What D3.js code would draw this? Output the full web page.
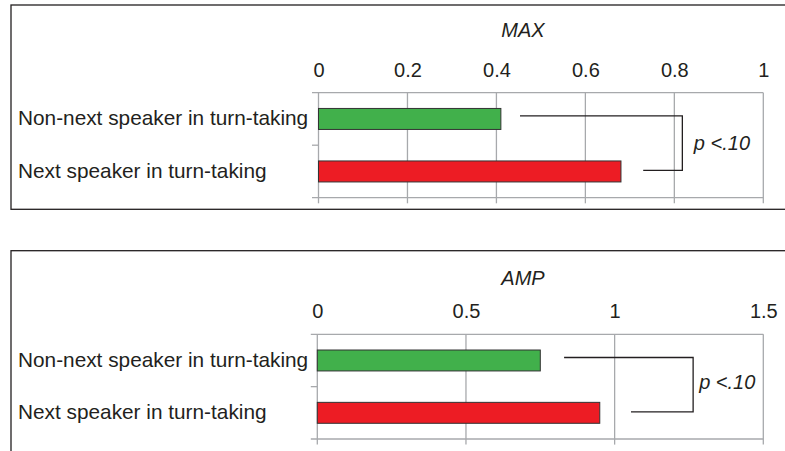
<!DOCTYPE html>
<html>
<head>
<meta charset="utf-8">
<script src="https://cdn.jsdelivr.net/npm/d3@7"></script>
<style>
  html, body { margin: 0; padding: 0; background: #fff; }
  svg { display: block; }
  text { font-family: "Liberation Sans", Arial, Helvetica, sans-serif; fill: #231f20; }
</style>
</head>
<body>
<svg id="chart" width="785" height="451"></svg>
<script>
// ---- data ----
const categories = ["Non-next speaker in turn-taking", "Next speaker in turn-taking"];
const maxValues = [0.41, 0.68];
const ampValues = [0.75, 0.95];
const maxTicks = [0, 0.2, 0.4, 0.6, 0.8, 1];
const maxTickLabels = ["0", "0.2", "0.4", "0.6", "0.8", "1"];
const ampTicks = [0, 0.5, 1, 1.5];
const ampTickLabels = ["0", "0.5", "1", "1.5"];
const panelTitles = ["MAX", "AMP"];
const sigLabel = "p <.10";
// bracket: start values of the two arms, value where the vertical bar sits
const maxBracket = [0.453, 0.730, 0.818];
const ampBracket = [0.83, 1.055, 1.264];
const barColors = ["#41b04b", "#ed1c24"];

// ---- layout ----
const panels = [
  { title: panelTitles[0], values: maxValues, ticks: maxTicks, labels: maxTickLabels, bracket: maxBracket,
    domain: [0, 1], x0: 318.5, x1: 763.3, yTop: 92.7, yBot: 197.7, titleY: 37.3, titleX: 523,
    tickY: 77.3, frameTop: 5, frameBot: 209.3, sigDx: 11.5, sigY: 149.5 },
  { title: panelTitles[1], values: ampValues, ticks: ampTicks, labels: ampTickLabels, bracket: ampBracket,
    domain: [0, 1.5], x0: 317.3, x1: 763.3, yTop: 334.3, yBot: 439, titleY: 285, titleX: 523,
    tickY: 318.3, frameTop: 250.7, frameBot: 480, sigDx: 6, sigY: 389 }
];

const svg = d3.select("#chart");

panels.forEach(p => {
  const g = svg.append("g");

  // frame
  g.append("rect")
    .attr("x", 11).attr("y", p.frameTop)
    .attr("width", 820).attr("height", p.frameBot - p.frameTop)
    .attr("fill", "none").attr("stroke", "#231f20").attr("stroke-width", 1.3);

  const x = d3.scaleLinear().domain(p.domain).range([p.x0, p.x1]);
  const y = d3.scaleBand().domain(categories).range([p.yTop, p.yBot]).paddingInner(0).paddingOuter(0);
  const bw = y.bandwidth();

  // horizontal border lines (top & bottom of plot) with tick extensions
  [p.yTop, p.yBot].forEach(yy => {
    g.append("line")
      .attr("x1", p.x0 - 6.5).attr("x2", p.x1)
      .attr("y1", yy).attr("y2", yy)
      .attr("stroke", "#a7a9ac").attr("stroke-width", 1.3);
  });
  // category boundary tick
  g.append("line")
    .attr("x1", p.x0 - 6.5).attr("x2", p.x0)
    .attr("y1", p.yTop + bw).attr("y2", p.yTop + bw)
    .attr("stroke", "#a7a9ac").attr("stroke-width", 1.3);

  // vertical gridlines
  g.selectAll(".grid").data(p.ticks).enter().append("line")
    .attr("x1", d => x(d)).attr("x2", d => x(d))
    .attr("y1", p.yTop).attr("y2", p.yBot + 5.6)
    .attr("stroke", "#a7a9ac").attr("stroke-width", 1.3);

  // tick labels via axis
  const axis = d3.axisTop(x).tickValues(p.ticks).tickSize(0).tickPadding(0)
    .tickFormat((d, i) => p.labels[i]);
  const ag = g.append("g").attr("transform", `translate(0,${p.tickY})`).call(axis);
  ag.attr("font-size", null).attr("font-family", null);
  ag.select(".domain").remove();
  ag.selectAll("text")
    .attr("dy", 0).attr("y", 0)
    .style("font-size", "20px")
    .style("font-family", '"Liberation Sans", Arial, sans-serif')
    .attr("fill", "#231f20");

  // title
  g.append("text")
    .attr("x", p.titleX).attr("y", p.titleY)
    .attr("text-anchor", "middle")
    .style("font-size", "20px").style("font-style", "italic")
    .text(p.title);

  // bars
  g.selectAll(".bar").data(p.values).enter().append("rect")
    .attr("x", x(0))
    .attr("y", (d, i) => y(categories[i]) + bw * 0.3)
    .attr("width", d => x(d) - x(0))
    .attr("height", bw * 0.4)
    .attr("fill", (d, i) => barColors[i])
    .attr("stroke", "#333").attr("stroke-width", 1);

  // category labels
  g.selectAll(".cat").data(categories).enter().append("text")
    .attr("x", 18)
    .attr("y", d => y(d) + bw / 2 + 6.5)
    .style("font-size", "20.8px")
    .text(d => d);

  // bracket
  const yA = y(categories[0]) + bw / 2 - 3;
  const yB = y(categories[1]) + bw / 2 - 1;
  const xb = x(p.bracket[2]);
  g.append("path")
    .attr("d", `M${x(p.bracket[0])},${yA}H${xb}V${yB}H${x(p.bracket[1])}`)
    .attr("fill", "none").attr("stroke", "#231f20").attr("stroke-width", 1.3);
  g.append("text")
    .attr("x", xb + p.sigDx).attr("y", p.sigY)
    .style("font-size", "20px").style("font-style", "italic")
    .text(sigLabel);
});
</script>
</body>
</html>
